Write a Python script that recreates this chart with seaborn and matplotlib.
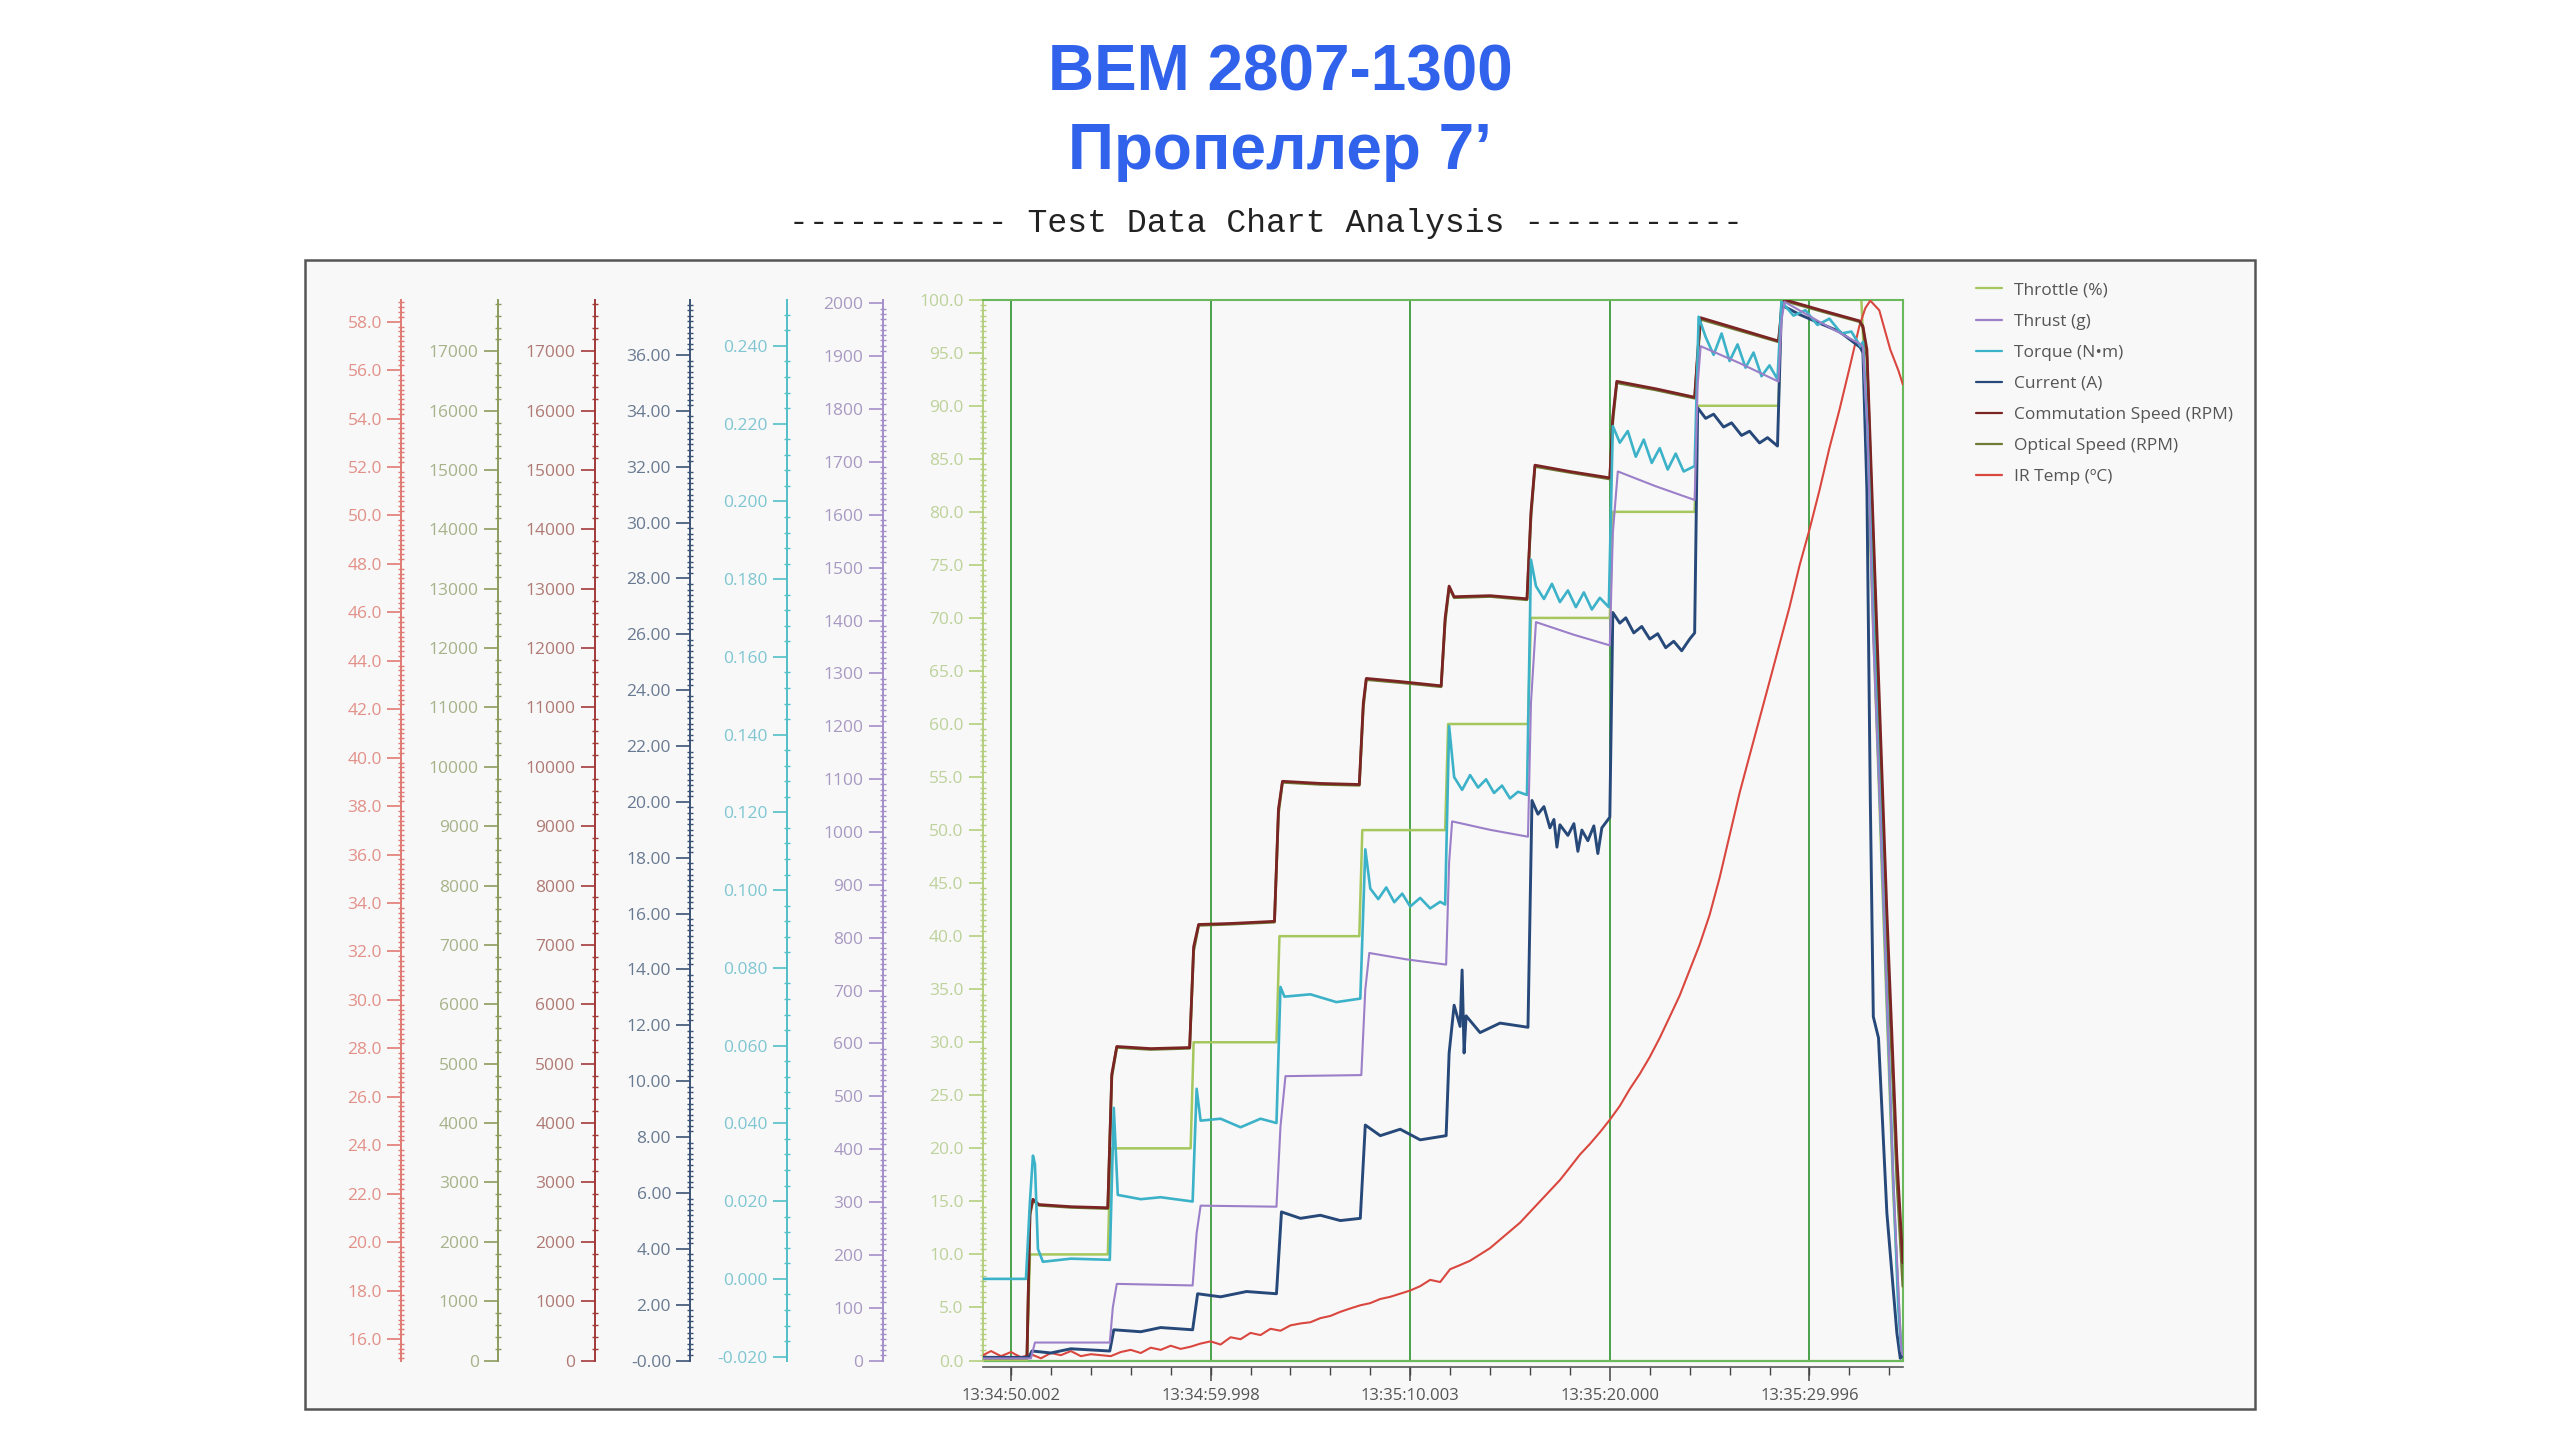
"""
BEM 2807-1300 / 7" prop - step throttle test log, one y-axis per channel
"""

import matplotlib
matplotlib.use("Agg")
import matplotlib.pyplot as plt
import seaborn as sns
from matplotlib.ticker import MultipleLocator, AutoMinorLocator, FixedLocator, FormatStrFormatter
from matplotlib.lines import Line2D
from matplotlib.patches import Rectangle

# -------------------------------
# Data (time = seconds after 13:34:00)
# -------------------------------
xtick_pos = [50.002, 59.998, 70.003, 80.000, 89.996]
xtick_labels = ["13:34:50.002", "13:34:59.998", "13:35:10.003", "13:35:20.000", "13:35:29.996"]

throttle_t = [48.6, 50.8, 50.95, 54.85, 55.0, 59.0, 59.15, 63.3, 63.45, 67.45, 67.6, 71.75, 71.9,
              75.9, 76.05, 80.0, 80.15, 84.25, 84.4, 88.45, 88.6, 92.6, 92.7, 93.2, 93.7, 94.2, 94.55, 94.68]
throttle_pct = [0, 0, 10, 10, 20, 20, 30, 30, 40, 40, 50, 50, 60, 60, 70, 70, 80, 80, 90, 90,
                100, 100, 96, 68.8, 42.3, 15.8, 2.6, 0]

thrust_t = [48.6, 51.0, 51.2, 54.95, 55.1, 55.3, 59.1, 59.3, 59.5, 63.3, 63.5, 63.75, 67.55, 67.75,
            67.95, 69.8, 71.8, 71.95, 72.1, 74.0, 75.9, 76.05, 76.3, 78.2, 80.0, 80.15, 80.4, 82.3,
            84.25, 84.4, 84.55, 86.5, 88.45, 88.6, 88.75, 90.6, 92.55, 92.68, 92.9, 93.2, 93.7, 94.2,
            94.6, 94.68]
thrust_g = [4, 4, 34, 34, 100, 145, 142, 241, 293, 291, 442, 538, 540, 702, 771, 759, 749, 943, 1020,
            1004, 991, 1244, 1397, 1373, 1353, 1565, 1682, 1654, 1628, 1846, 1919, 1887, 1852, 1967,
            2003, 1963, 1923, 1917, 1766, 1365, 883, 341, 20, 10]

torque_t = [48.6, 50.75, 50.95, 51.1, 51.2, 51.35, 51.6, 53.0, 54.95,
            55.15, 55.35, 56.5, 57.5, 59.1,
            59.3, 59.5, 60.5, 61.5, 62.5, 63.3,
            63.5, 63.7, 65.0, 66.3, 67.5,
            67.75, 68.0, 68.4, 68.8, 69.2, 69.6, 70.0, 70.5, 71.0, 71.5, 71.75,
            71.95, 72.2, 72.6, 73.0, 73.4, 73.8, 74.2, 74.6, 75.0, 75.4, 75.85,
            76.05, 76.3, 76.7, 77.1, 77.5, 77.9, 78.3, 78.7, 79.1, 79.5, 79.95,
            80.15, 80.5, 80.9, 81.3, 81.7, 82.1, 82.5, 82.9, 83.3, 83.7, 84.25,
            84.45, 84.8, 85.2, 85.6, 86.0, 86.4, 86.8, 87.2, 87.6, 88.0, 88.4,
            88.6, 89.2, 89.8, 90.4, 91.0, 91.6, 92.1, 92.55,
            92.68, 92.9, 93.2, 93.7, 94.2, 94.45, 94.6]
torque_nm = [0.0000, 0.0000, 0.0199, 0.0317, 0.0295, 0.0077, 0.0044, 0.0052, 0.0049,
             0.0440, 0.0216, 0.0205, 0.0210, 0.0199,
             0.0489, 0.0407, 0.0412, 0.0390, 0.0412, 0.0401,
             0.0751, 0.0726, 0.0732, 0.0712, 0.0721,
             0.1105, 0.1004, 0.0977, 0.1007, 0.0969, 0.0991, 0.0958, 0.0980, 0.0953, 0.0970, 0.0963,
             0.1422, 0.1291, 0.1258, 0.1296, 0.1264, 0.1285, 0.1250, 0.1269, 0.1236, 0.1253, 0.1245,
             0.1850, 0.1782, 0.1749, 0.1788, 0.1741, 0.1771, 0.1728, 0.1766, 0.1722, 0.1752, 0.1728,
             0.2194, 0.2151, 0.2181, 0.2115, 0.2159, 0.2099, 0.2137, 0.2082, 0.2123, 0.2077, 0.2091,
             0.2475, 0.2423, 0.2377, 0.2432, 0.2361, 0.2404, 0.2344, 0.2383, 0.2322, 0.2350, 0.2314,
             0.2514, 0.2478, 0.2492, 0.2454, 0.2470, 0.2432, 0.2437, 0.2399,
             0.2410, 0.2192, 0.1700, 0.0991, 0.0254, -0.0074, -0.0183]

current_t = [48.6, 50.9, 51.05, 52.0, 53.0, 54.95,
             55.15, 56.5, 57.5, 59.1,
             59.35, 60.5, 61.8, 63.3,
             63.55, 64.5, 65.5, 66.5, 67.5,
             67.75, 68.5, 69.5, 70.5, 71.8,
             71.95, 72.2, 72.5, 72.6, 72.7, 72.8, 73.5, 74.5, 75.9,
             76.1, 76.4, 76.7, 77.0, 77.2, 77.35, 77.5, 77.9, 78.2, 78.4, 78.6, 78.9, 79.2, 79.4, 79.6, 80.0,
             80.15, 80.5, 80.8, 81.2, 81.6, 82.0, 82.4, 82.8, 83.2, 83.6, 84.0, 84.25,
             84.4, 84.8, 85.2, 85.7, 86.1, 86.6, 87.0, 87.5, 87.9, 88.4,
             88.6, 89.5, 90.5, 91.5, 92.55,
             92.68, 92.88, 93.05, 93.2, 93.46, 93.88, 94.38, 94.55, 94.68]
current_a = [0.11, 0.11, 0.34, 0.27, 0.42, 0.34,
             1.10, 1.03, 1.18, 1.10,
             2.39, 2.28, 2.47, 2.39,
             5.32, 5.09, 5.20, 5.01, 5.09,
             8.43, 8.05, 8.28, 7.90, 8.05,
             11.01, 12.72, 11.96, 13.98, 11.01, 12.34, 11.74, 12.08, 11.93,
             20.05, 19.56, 19.83, 19.07, 19.37, 18.38, 19.18, 18.80, 19.22, 18.23, 18.99, 18.61, 19.14,
             18.15, 19.07, 19.45,
             26.78, 26.40, 26.59, 26.05, 26.28, 25.83, 26.02, 25.52, 25.75, 25.41, 25.83, 26.05,
             34.11, 33.73, 33.88, 33.42, 33.57, 33.12, 33.27, 32.85, 33.04, 32.74,
             37.79, 37.45, 37.14, 36.84, 36.27,
             36.08, 31.14, 20.09, 12.31, 11.55, 5.28, 0.99, 0.08, 0.20]

speed_t = [48.6, 50.8, 50.95, 51.1, 51.4, 53.0, 54.85, 55.05, 55.3, 57.0, 58.95, 59.15, 59.4, 61.0,
           63.2, 63.4, 63.6, 65.5, 67.45, 67.65, 67.8, 69.5, 71.55, 71.75, 71.95, 72.2, 74.0, 75.85,
           76.05, 76.25, 78.0, 80.0, 80.15, 80.35, 82.3, 84.25, 84.4, 84.55, 86.5, 88.45, 88.6, 88.75,
           90.6, 92.5, 92.68, 92.88, 93.38, 93.88, 94.38, 94.68]
commutation_rpm = [54, 54, 2502, 2716, 2627, 2591, 2573, 4825, 5290, 5254, 5272, 6969, 7345, 7362,
                   7398, 9292, 9757, 9721, 9703, 11079, 11490, 11437, 11365, 12509, 13045, 12866, 12884,
                   12831, 14296, 15082, 14975, 14868, 15904, 16494, 16369, 16226, 16977, 17566, 17370,
                   17173, 17691, 17870, 17691, 17513, 17423, 17030, 12295, 7559, 3431, 1644]
optical_rpm = [40, 40, 2450, 2700, 2615, 2580, 2560, 4780, 5275, 5240, 5260, 6900, 7330, 7350, 7385,
               9220, 9740, 9705, 9690, 11000, 11470, 11420, 11350, 12440, 13020, 12850, 12870, 12815,
               14220, 15060, 14960, 14850, 15820, 16470, 16350, 16210, 16900, 17540, 17350, 17160,
               17620, 17850, 17675, 17500, 17400, 16900, 11880, 7150, 3040, 1250]

ir_t = [48.6, 49.0, 49.5, 50.0, 50.5, 51.0, 51.5, 52.0, 52.5, 53.0, 53.5, 54.0, 54.5, 55.0, 55.5, 56.0,
        56.5, 57.0, 57.5, 58.0, 58.5, 59.0, 59.5, 60.0, 60.5, 61.0, 61.5, 62.0, 62.5, 63.0, 63.5, 64.0,
        64.5, 65.0, 65.5, 66.0, 66.5, 67.0, 67.5, 68.0, 68.5, 69.0, 69.5, 70.0, 70.5, 71.0, 71.5, 72.0,
        72.5, 73.0, 73.5, 74.0, 74.5, 75.0, 75.5, 76.0, 76.5, 77.0, 77.5, 78.0, 78.5, 79.0, 79.5, 80.0,
        80.5, 81.0, 81.5, 82.0, 82.5, 83.0, 83.5, 84.0, 84.5, 85.0, 85.5, 86.0, 86.5, 87.0, 87.5, 88.0,
        88.5, 89.0, 89.5, 90.0, 90.5, 91.0, 91.5, 92.0, 92.5, 92.8, 93.05, 93.5, 94.05, 94.46, 94.68]
ir_temp_c = [15.33, 15.50, 15.29, 15.46, 15.24, 15.37, 15.20, 15.42, 15.33, 15.50, 15.29, 15.37, 15.33,
             15.29, 15.46, 15.55, 15.42, 15.64, 15.55, 15.72, 15.59, 15.68, 15.81, 15.90, 15.77, 16.07,
             15.99, 16.25, 16.16, 16.42, 16.34, 16.56, 16.64, 16.69, 16.86, 16.95, 17.12, 17.26, 17.39,
             17.48, 17.65, 17.74, 17.87, 18.00, 18.18, 18.44, 18.35, 18.88, 19.05, 19.23, 19.49, 19.75,
             20.10, 20.45, 20.80, 21.24, 21.68, 22.12, 22.56, 23.08, 23.61, 24.05, 24.53, 25.05, 25.62,
             26.32, 26.94, 27.64, 28.43, 29.30, 30.18, 31.23, 32.28, 33.51, 35.04, 36.79, 38.54, 40.08,
             41.61, 43.14, 44.68, 46.21, 47.92, 49.41, 51.03, 52.78, 54.35, 56.06, 57.82, 58.56, 58.87,
             58.47, 56.85, 55.98, 55.41]

legend_labels = ["Throttle (%)", "Thrust (g)", "Torque (N\u2022m)", "Current (A)",
                 "Commutation Speed (RPM)", "Optical Speed (RPM)", "IR Temp (\u00baC)"]

# line colour, spine colour, tick label colour
C_THROTTLE = ("#a5c75d", "#b4cf7e", "#bdd29a")
C_THRUST = ("#9b7fc8", "#a48fc9", "#a899c2")
C_TORQUE = ("#3cb2c9", "#52bfc9", "#7fc6d2")
C_CURRENT = ("#27497a", "#3b5377", "#687a92")
C_COMM = ("#7b2424", "#a33a3a", "#b07a74")
C_OPTICAL = ("#6d7b34", "#8c9c5c", "#a6b289")
C_IR = ("#d9473f", "#e07a74", "#e39088")

GREEN = "#6cb85c"
GRID_GREEN = "#3c9a3c"


def style_left(a, colors, lim, major, minor_n, fmt):
    a.set_ylim(*lim)
    a.yaxis.set_major_locator(major)
    a.yaxis.set_minor_locator(AutoMinorLocator(minor_n))
    a.yaxis.set_major_formatter(FormatStrFormatter(fmt))
    a.spines["left"].set_color(colors[1])
    a.spines["left"].set_linewidth(1.4)
    a.tick_params(axis="y", which="major", direction="out", length=10, width=1.2,
                  color=colors[1], labelcolor=colors[2], labelsize=12.5, pad=4)
    a.tick_params(axis="y", which="minor", direction="inout", length=5, width=1, color=colors[1])


def add_axis(host, offset):
    a = host.twinx()
    a.yaxis.tick_left()
    a.spines["left"].set_visible(True)
    a.spines["left"].set_position(("axes", offset))
    for s in ("right", "top", "bottom"):
        a.spines[s].set_visible(False)
    a.patch.set_visible(False)
    return a


def draw(a, t, v, color, lw):
    sns.lineplot(x=t, y=v, ax=a, color=color, lw=lw, estimator=None, sort=False, legend=False)


sns.set_style("white")
plt.rcParams["font.family"] = ["Open Sans", "DejaVu Sans"]

fig = plt.figure(figsize=(25.6, 14.4), dpi=100)
fig.patches.append(Rectangle((0.1191, 0.0215), 0.7617, 0.798, transform=fig.transFigure,
                             facecolor="#f8f8f8", edgecolor="#555555", lw=1.8, zorder=-5))

# host axes carries the throttle scale and the time axis
ax = fig.add_axes([0.384, 0.0552, 0.3593, 0.7367])
ax.set_facecolor("none")
ax.grid(True, axis="x", which="major", color=GRID_GREEN, lw=1.3)
ax.grid(False, axis="y")
ax.axhline(0, color=GREEN, lw=1.6, clip_on=False, zorder=1)
draw(ax, throttle_t, throttle_pct, C_THROTTLE[0], 1.8)

ax_ir = add_axis(ax, -0.6324)
ax_opt = add_axis(ax, -0.5271)
ax_com = add_axis(ax, -0.4221)
ax_cur = add_axis(ax, -0.3181)
ax_tor = add_axis(ax, -0.2133)
ax_thr = add_axis(ax, -0.1089)

draw(ax_ir, ir_t, ir_temp_c, C_IR[0], 1.5)
draw(ax_thr, thrust_t, thrust_g, C_THRUST[0], 1.5)
draw(ax_tor, torque_t, torque_nm, C_TORQUE[0], 1.9)
draw(ax_cur, current_t, current_a, C_CURRENT[0], 2.1)
draw(ax_opt, speed_t, optical_rpm, C_OPTICAL[0], 2.0)
draw(ax_com, speed_t, commutation_rpm, C_COMM[0], 2.0)

style_left(ax, C_THROTTLE, (0, 100), MultipleLocator(5), 10, "%.1f")
style_left(ax_thr, C_THRUST, (0, 2007), MultipleLocator(100), 10, "%d")
style_left(ax_tor, C_TORQUE, (-0.021, 0.2519),
           FixedLocator([-0.02, 0.0, 0.02, 0.04, 0.06, 0.08, 0.1, 0.12, 0.14, 0.16, 0.18, 0.2, 0.22, 0.24]),
           5, "%.3f")
# current ticks start a hair below zero, hence the "-0.00" label
style_left(ax_cur, C_CURRENT, (-0.0001, 37.98),
           FixedLocator([-0.0001 + 2 * k for k in range(19)]), 10, "%.2f")
style_left(ax_com, C_COMM, (0, 17870), MultipleLocator(1000), 5, "%d")
style_left(ax_opt, C_OPTICAL, (0, 17870), MultipleLocator(1000), 5, "%d")
style_left(ax_ir, C_IR, (15.11, 58.91), MultipleLocator(2.0), 10, "%.1f")

# time axis
ax.set_xlim(48.6, 94.68)
ax.set_xticks(xtick_pos)
ax.set_xticklabels(xtick_labels)
ax.xaxis.set_minor_locator(MultipleLocator(2))
ax.tick_params(axis="x", which="major", direction="out", length=10, width=1.1, color="#444444",
               labelcolor="#555555", labelsize=12, pad=5, bottom=True)
ax.tick_params(axis="x", which="minor", direction="out", length=6, width=1.0, color="#444444", bottom=True)
ax.spines["bottom"].set_position(("outward", 5))
ax.spines["bottom"].set_color("#555555")
ax.spines["bottom"].set_linewidth(1.2)
for s in ("top", "right"):
    ax.spines[s].set_color(GREEN)
    ax.spines[s].set_linewidth(1.5)
ax.set_xlabel("")
ax.set_ylabel("")
for a in (ax_ir, ax_opt, ax_com, ax_cur, ax_tor, ax_thr):
    a.set_ylabel("")

# legend
colors = [C_THROTTLE[0], C_THRUST[0], C_TORQUE[0], C_CURRENT[0], C_COMM[0], C_OPTICAL[0], C_IR[0]]
handles = [Line2D([], [], color=c, lw=1.6) for c in colors]
leg = fig.legend(handles, legend_labels, loc="upper left", bbox_to_anchor=(0.7719, 0.8039),
                 frameon=False, fontsize=12.5, handlelength=1.5, handletextpad=0.7,
                 labelspacing=0.86, borderaxespad=0, borderpad=0)
for txt in leg.get_texts():
    txt.set_color("#555555")

# titles
fig.text(0.5, 0.949, "BEM 2807-1300", ha="center", va="center", fontsize=46,
         fontweight="bold", color="#3062eb", family=["Liberation Sans", "DejaVu Sans"])
fig.text(0.5, 0.8945, "Пропеллер 7\u2019", ha="center", va="center", fontsize=46,
         fontweight="bold", color="#3062eb", family=["Liberation Sans", "DejaVu Sans"])
fig.text(0.4946, 0.845, "----------- Test Data Chart Analysis -----------", ha="center", va="center",
         fontsize=23.9, color="#222222", family=["Liberation Mono", "DejaVu Sans Mono"])

fig.savefig("out.png", dpi=100, facecolor="white")
